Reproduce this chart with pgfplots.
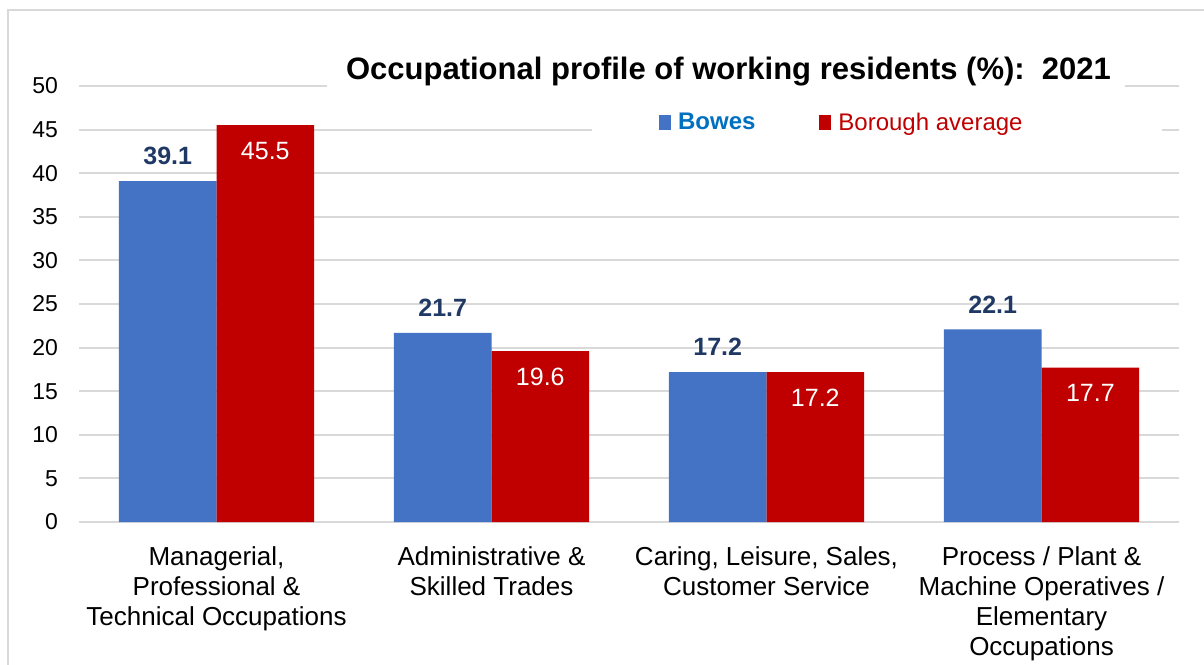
\documentclass[border=0pt]{standalone}
\usepackage{fontspec}
\setmainfont{Liberation Sans}
\usepackage{pgfplots}
\pgfplotsset{compat=1.18}
\definecolor{bowesBlue}{HTML}{4472C4}
\definecolor{boroRed}{HTML}{C00000}
\definecolor{labNavy}{HTML}{1F3864}
\definecolor{legBlue}{HTML}{0070C0}
\definecolor{gridGrey}{HTML}{D9D9D9}

\begin{document}
\begin{tikzpicture}
\useasboundingbox (0,0) rectangle (602pt,332pt);
% outer frame (only left and top edges show in the crop)
\draw[gridGrey, line width=0.75pt] (4pt,-10pt) -- (4pt,327pt) -- (615pt,327pt);
\begin{axis}[
  at={(39.5pt,71pt)}, anchor=south west,
  scale only axis, width=550pt, height=218pt,
  clip=false,
  ybar, bar width=0.355,
  xmin=-0.5, xmax=3.5, ymin=0, ymax=50,
  xtick={0,1,2,3},
  xticklabels={{Managerial,\\Professional \&\\Technical Occupations},
    {Administrative \&\\Skilled Trades},
    {Caring, Leisure, Sales,\\Customer Service},
    {Process / Plant \&\\Machine Operatives /\\Elementary\\Occupations}},
  xticklabel style={align=center, font=\fontsize{13}{15}\selectfont, yshift=-9pt},
  ytick={0,5,...,50},
  yticklabel style={font=\fontsize{11.5}{14}\selectfont, xshift=-7pt},
  /pgf/number format/assume math mode=true,
  ymajorgrids, grid style={gridGrey, line width=1pt},
  axis line style={draw=none},
  major tick length=0pt,
  legend style={at={(0.527,0.915)}, anchor=west, draw=none, fill=none,
    inner sep=0pt, font=\fontsize{12}{14}\selectfont, nodes={inner sep=0pt},
    /tikz/every odd column/.append style={column sep=3.5pt},
    /tikz/every even column/.append style={column sep=32pt}},
  legend columns=2,
  legend image code/.code={\fill[#1] (0pt,-3.5pt) rectangle (6pt,4pt);},
  nodes near coords={\pgfmathprintnumber[fixed,precision=1,fixed zerofill,assume math mode=true]{\pgfplotspointmeta}},
]
\addplot[fill=bowesBlue, draw=none, bar shift=-0.1775,
  nodes near coords style={font=\fontsize{12.5}{15}\selectfont\bfseries, text=labNavy, anchor=south, yshift=4.5pt}]
  coordinates {(0,39.1) (1,21.7) (2,17.2) (3,22.1)};
\addlegendentry{\textcolor{legBlue}{\bfseries Bowes}}
\addplot[fill=boroRed, draw=none, bar shift=0.1775,
  nodes near coords style={font=\fontsize{12.5}{15}\selectfont, text=white, anchor=north, yshift=-5pt}]
  coordinates {(0,45.5) (1,19.6) (2,17.2) (3,17.7)};
\addlegendentry{\textcolor{boroRed}{Borough average}}
% white boxes behind title and legend, as in the original
\fill[white] (axis cs:0.4,54.0) rectangle (axis cs:3.303,48.7);
\fill[white] (axis cs:1.365,47.9) rectangle (axis cs:3.438,42.8);
\end{axis}
\node[anchor=base, font=\fontsize{15.5}{17}\selectfont\bfseries] at (364.25pt,292pt)
  {Occupational profile of working residents (\%):\ \ 2021};
\end{tikzpicture}
\end{document}
